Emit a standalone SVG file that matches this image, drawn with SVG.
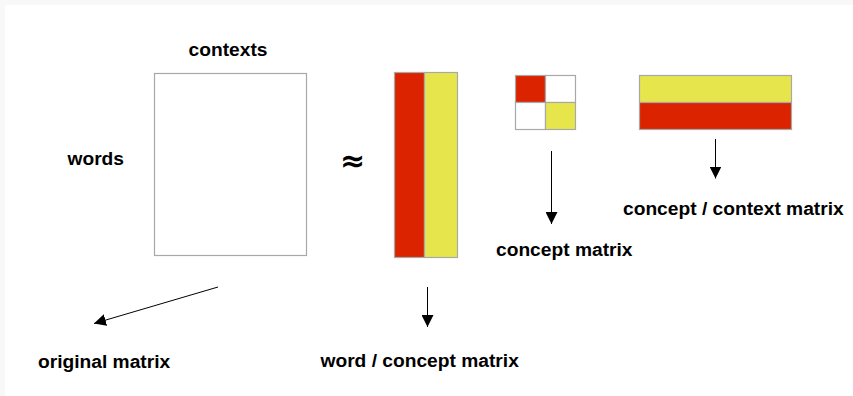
<svg xmlns="http://www.w3.org/2000/svg" width="853" height="396" viewBox="0 0 853 396">
<defs>
<style>
.t{font-family:"Liberation Sans",Arial,sans-serif;font-weight:bold;font-size:19.2px;fill:#000}
.box{stroke:#a8a8a8;stroke-width:1.2}
.red{fill:#dc2300}
.yel{fill:#e6e64c}
.ln{stroke:#000;stroke-width:1;fill:none}
</style>
<marker id="ah" viewBox="0 0 10 10" refX="10" refY="5" markerWidth="12" markerHeight="12" markerUnits="userSpaceOnUse" orient="auto">
<path d="M0,0 L10,5 L0,10 Z" fill="#000"/>
</marker>
</defs>
<rect x="0" y="0" width="853" height="396" fill="#f8f8f8"/>
<rect x="5" y="5" width="848" height="391" fill="#fff"/>
<g id="original">
<rect class="box" x="154.5" y="73.5" width="152" height="182" fill="#fff"/>
<text class="t" x="228" y="56" text-anchor="middle">contexts</text>
<text class="t" x="67.5" y="165">words</text>
</g>
<g id="approx">
<text x="352.5" y="171" text-anchor="middle" style="font-family:'DejaVu Sans',sans-serif;font-weight:bold;font-size:30px">≈</text>
</g>
<g id="wordconcept">
<rect class="red box" x="394.5" y="72.5" width="30" height="185"/>
<rect class="yel box" x="424.5" y="72.5" width="33" height="185"/>
</g>
<g id="concept">
<rect class="red box" x="515.5" y="75.5" width="30" height="27"/>
<rect class="box" x="545.5" y="75.5" width="30" height="27" fill="#fff"/>
<rect class="box" x="515.5" y="102.5" width="30" height="27" fill="#fff"/>
<rect class="yel box" x="545.5" y="102.5" width="30" height="27"/>
</g>
<g id="conceptcontext">
<rect class="yel box" x="639.5" y="75.5" width="152" height="27"/>
<rect class="red box" x="639.5" y="102.5" width="152" height="27"/>
</g>
<g id="connectors">
<line class="ln" x1="218" y1="287" x2="94" y2="323.5" marker-end="url(#ah)"/>
<line class="ln" x1="427.5" y1="287" x2="427.5" y2="327" marker-end="url(#ah)"/>
<line class="ln" x1="551.5" y1="151" x2="551.5" y2="224" marker-end="url(#ah)"/>
<line class="ln" x1="715.5" y1="139" x2="715.5" y2="178.5" marker-end="url(#ah)"/>
</g>
<g id="labels">
<text class="t" x="38" y="368">original matrix</text>
<text class="t" x="320.5" y="367">word / concept matrix</text>
<text class="t" x="496" y="256">concept matrix</text>
<text class="t" x="623" y="215">concept / context matrix</text>
</g>
</svg>
